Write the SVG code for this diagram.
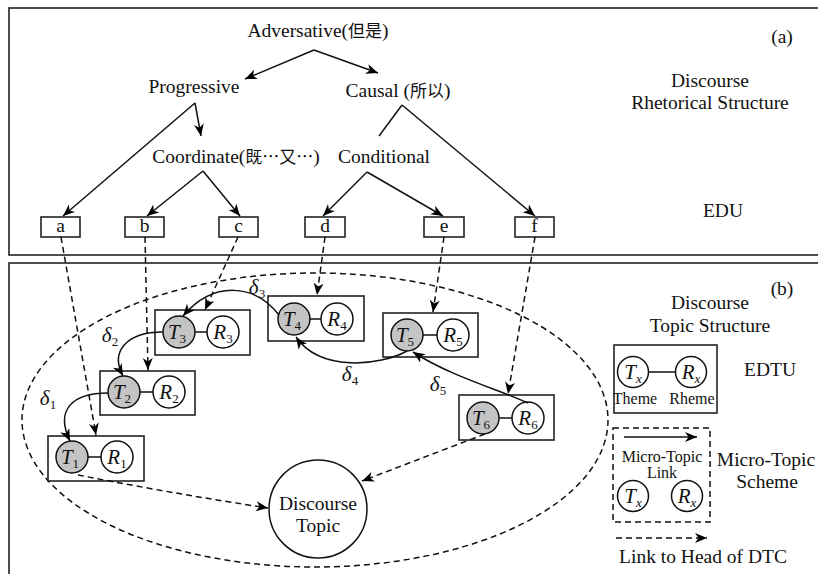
<svg xmlns="http://www.w3.org/2000/svg" width="818" height="574" viewBox="0 0 818 574" font-family="'Liberation Serif', 'Times New Roman', 'DejaVu Serif', serif">
<defs>
<marker id="ah" markerUnits="userSpaceOnUse" markerWidth="14" markerHeight="12" refX="12" refY="5" orient="auto">
<path d="M0,0 L12,5 L0,10 L3.5,5 Z" fill="#000"/>
</marker>
<style>
text{fill:#111}
.t{font-size:19.5px}
.s{font-size:16px}
.m{font-size:21px;text-anchor:middle}
.i{font-style:italic}
.sub{font-size:13px}
.cjk{font-family:"Noto Sans CJK SC",sans-serif;font-size:17px}
.panel{fill:none;stroke:#222;stroke-width:1.6}
.box{fill:#fff;stroke:#222;stroke-width:1.6}
.cT{fill:#c4c4c4;stroke:#111;stroke-width:1.5}
.cR{fill:#fff;stroke:#111;stroke-width:1.5}
.ln{stroke:#111;stroke-width:1.5;fill:none}
.ar{stroke:#111;stroke-width:1.5;fill:none;marker-end:url(#ah)}
.da{stroke:#111;stroke-width:1.5;fill:none;stroke-dasharray:6,4;marker-end:url(#ah)}
.dl{stroke:#111;stroke-width:1.5;fill:none;stroke-dasharray:6,4}
</style>
</defs>
<rect width="818" height="574" fill="#fff"/>
<rect class="panel" x="9" y="8" width="830" height="247"/>
<rect class="panel" x="9" y="263" width="830" height="330"/>

<!-- panel a texts -->
<g id="rel-adversative"><text class="t" x="318" y="37" text-anchor="middle">Adversative(<tspan class="cjk">但是</tspan>)</text></g>
<g id="rel-progressive"><text class="t" x="194" y="93" text-anchor="middle">Progressive</text></g>
<g id="rel-causal"><text class="t" x="398" y="97" text-anchor="middle">Causal (<tspan class="cjk">所以</tspan>)</text></g>
<g id="rel-coordinate"><text class="t" x="236" y="163" text-anchor="middle">Coordinate(<tspan class="cjk">既⋯又⋯</tspan>)</text></g>
<g id="rel-conditional"><text class="t" x="384" y="163" text-anchor="middle">Conditional</text></g>
<text class="t" x="782" y="43" text-anchor="middle">(a)</text>
<text class="t" x="710" y="87" text-anchor="middle">Discourse</text>
<text class="t" x="710" y="109" text-anchor="middle">Rhetorical Structure</text>
<text class="t" x="723" y="217" text-anchor="middle">EDU</text>

<g id="edu-a"><rect class="box" x="41" y="217" width="39" height="20"/><text class="t" x="60.5" y="232" text-anchor="middle">a</text></g>
<g id="edu-b"><rect class="box" x="125" y="217" width="39" height="20"/><text class="t" x="144.5" y="232" text-anchor="middle">b</text></g>
<g id="edu-c"><rect class="box" x="219" y="217" width="39" height="20"/><text class="t" x="238.5" y="232" text-anchor="middle">c</text></g>
<g id="edu-d"><rect class="box" x="305" y="217" width="40" height="20"/><text class="t" x="325" y="232" text-anchor="middle">d</text></g>
<g id="edu-e"><rect class="box" x="424" y="217" width="40" height="20"/><text class="t" x="444" y="232" text-anchor="middle">e</text></g>
<g id="edu-f"><rect class="box" x="515" y="217" width="39" height="20"/><text class="t" x="534.5" y="232" text-anchor="middle">f</text></g>

<!-- panel b -->
<text class="t" x="782" y="295" text-anchor="middle">(b)</text>
<text class="t" x="710" y="309" text-anchor="middle">Discourse</text>
<text class="t" x="710" y="332" text-anchor="middle">Topic Structure</text>

<ellipse class="dl" cx="315" cy="420" rx="293" ry="147"/>

<g id="edtu-1"><rect class="box" x="48" y="436" width="96" height="45"/>
<line class="ln" x1="88" y1="457" x2="101" y2="457"/>
<circle class="cT" cx="72" cy="457" r="16"/><circle class="cR" cx="117" cy="457" r="16"/>
<text class="m" x="70" y="464"><tspan class="i">T</tspan><tspan class="sub" dy="4">1</tspan></text>
<text class="m" x="117" y="464"><tspan class="i">R</tspan><tspan class="sub" dy="4">1</tspan></text></g>

<g id="edtu-2"><rect class="box" x="100" y="371" width="95" height="44"/>
<line class="ln" x1="140" y1="392" x2="153" y2="392"/>
<circle class="cT" cx="124" cy="392" r="16"/><circle class="cR" cx="169" cy="392" r="16"/>
<text class="m" x="122" y="399"><tspan class="i">T</tspan><tspan class="sub" dy="4">2</tspan></text>
<text class="m" x="169" y="399"><tspan class="i">R</tspan><tspan class="sub" dy="4">2</tspan></text></g>

<g id="edtu-3"><rect class="box" x="155" y="310" width="95" height="45"/>
<line class="ln" x1="195" y1="332" x2="207" y2="332"/>
<circle class="cT" cx="179" cy="332" r="16"/><circle class="cR" cx="223" cy="332" r="16"/>
<text class="m" x="177" y="339"><tspan class="i">T</tspan><tspan class="sub" dy="4">3</tspan></text>
<text class="m" x="223" y="339"><tspan class="i">R</tspan><tspan class="sub" dy="4">3</tspan></text></g>

<g id="edtu-4"><rect class="box" x="268" y="296" width="96" height="45"/>
<line class="ln" x1="310" y1="319" x2="321" y2="319"/>
<circle class="cT" cx="294" cy="319" r="16"/><circle class="cR" cx="337" cy="319" r="16"/>
<text class="m" x="292" y="326"><tspan class="i">T</tspan><tspan class="sub" dy="4">4</tspan></text>
<text class="m" x="337" y="326"><tspan class="i">R</tspan><tspan class="sub" dy="4">4</tspan></text></g>

<g id="edtu-5"><rect class="box" x="383" y="313" width="95" height="44"/>
<line class="ln" x1="423" y1="335" x2="437" y2="335"/>
<circle class="cT" cx="407" cy="335" r="16"/><circle class="cR" cx="453" cy="335" r="16"/>
<text class="m" x="405" y="342"><tspan class="i">T</tspan><tspan class="sub" dy="4">5</tspan></text>
<text class="m" x="453" y="342"><tspan class="i">R</tspan><tspan class="sub" dy="4">5</tspan></text></g>

<g id="edtu-6"><rect class="box" x="459" y="395" width="95" height="45"/>
<line class="ln" x1="499" y1="418" x2="512" y2="418"/>
<circle class="cT" cx="483" cy="418" r="16"/><circle class="cR" cx="528" cy="418" r="16"/>
<text class="m" x="481" y="425"><tspan class="i">T</tspan><tspan class="sub" dy="4">6</tspan></text>
<text class="m" x="528" y="425"><tspan class="i">R</tspan><tspan class="sub" dy="4">6</tspan></text></g>

<g id="discourse-topic"><circle class="cR" cx="318" cy="509" r="49"/>
<text class="t" x="318" y="510" text-anchor="middle">Discourse</text>
<text class="t" x="318" y="532" text-anchor="middle">Topic</text></g>

<!-- legend -->
<g id="legend-edtu"><rect class="box" x="614" y="345" width="103" height="68"/>
<line class="ln" x1="648" y1="372" x2="676" y2="372"/>
<circle class="cR" cx="633" cy="372" r="15.5"/><circle class="cR" cx="691" cy="372" r="15.5"/>
<text class="m" x="633" y="379"><tspan class="i">T</tspan><tspan class="sub i" dy="4">x</tspan></text>
<text class="m" x="691" y="379"><tspan class="i">R</tspan><tspan class="sub i" dy="4">x</tspan></text>
<text class="s" x="635" y="404" text-anchor="middle">Theme</text>
<text class="s" x="692" y="404" text-anchor="middle">Rheme</text></g>
<text class="t" x="770" y="376" text-anchor="middle">EDTU</text>

<g id="legend-scheme"><rect x="613" y="428" width="97" height="94" fill="none" stroke="#111" stroke-width="1.5" stroke-dasharray="6,4"/>
<line class="ar" x1="624" y1="437" x2="697" y2="437"/>
<text class="s" x="662" y="462" text-anchor="middle">Micro-Topic</text>
<text class="s" x="662" y="478" text-anchor="middle">Link</text>
<circle class="cR" cx="633" cy="496" r="15.5"/><circle class="cR" cx="687" cy="496" r="15.5"/>
<text class="m" x="633" y="503"><tspan class="i">T</tspan><tspan class="sub i" dy="4">x</tspan></text>
<text class="m" x="687" y="503"><tspan class="i">R</tspan><tspan class="sub i" dy="4">x</tspan></text></g>
<text class="t" x="766" y="466" text-anchor="middle">Micro-Topic</text>
<text class="t" x="767" y="488" text-anchor="middle">Scheme</text>
<line class="da" x1="616" y1="538" x2="707" y2="538"/>
<text class="t" x="703" y="563" text-anchor="middle">Link to Head of DTC</text>

<g id="connectors">
<line class="ar" x1="314" y1="50" x2="245" y2="79"/>
<line class="ar" x1="314" y1="50" x2="378" y2="73"/>
<line class="ar" x1="195" y1="103" x2="63" y2="216"/>
<line class="ar" x1="195" y1="103" x2="201" y2="136"/>
<line class="ln" x1="402" y1="105" x2="379" y2="136"/>
<line class="ar" x1="402" y1="105" x2="535" y2="216"/>
<line class="ar" x1="203" y1="171" x2="147" y2="216"/>
<line class="ar" x1="203" y1="171" x2="240" y2="216"/>
<line class="ar" x1="367" y1="172" x2="323" y2="216"/>
<line class="ar" x1="367" y1="172" x2="443" y2="216"/>
<line class="da" x1="61" y1="237" x2="96" y2="435"/>
<line class="da" x1="145" y1="237" x2="148" y2="370"/>
<line class="da" x1="238" y1="237" x2="205" y2="310"/>
<line class="da" x1="325" y1="237" x2="317" y2="295"/>
<line class="da" x1="444" y1="237" x2="433" y2="312"/>
<line class="da" x1="535" y1="237" x2="508" y2="394"/>
<path class="ar" d="M108,393 C72,393 55,410 70,441"/>
<path class="ar" d="M163,332 C126,332 110,352 123,376"/>
<path class="ar" d="M279,315 C255,284 214,280 183,316"/>
<path class="ar" d="M407,351 C380,366 320,372 296,337"/>
<path class="ar" d="M528,403 C500,390 450,376 413,352"/>
<path class="da" d="M78,475 Q170,493 268,508"/>
<line class="da" x1="485" y1="434" x2="362" y2="481"/>
<text class="m" x="48" y="405"><tspan class="i">δ</tspan><tspan class="sub" dy="4">1</tspan></text>
<text class="m" x="110" y="342"><tspan class="i">δ</tspan><tspan class="sub" dy="4">2</tspan></text>
<text class="m" x="257" y="294"><tspan class="i">δ</tspan><tspan class="sub" dy="4">3</tspan></text>
<text class="m" x="350" y="381"><tspan class="i">δ</tspan><tspan class="sub" dy="4">4</tspan></text>
<text class="m" x="438" y="391"><tspan class="i">δ</tspan><tspan class="sub" dy="4">5</tspan></text>
</g>
</svg>
